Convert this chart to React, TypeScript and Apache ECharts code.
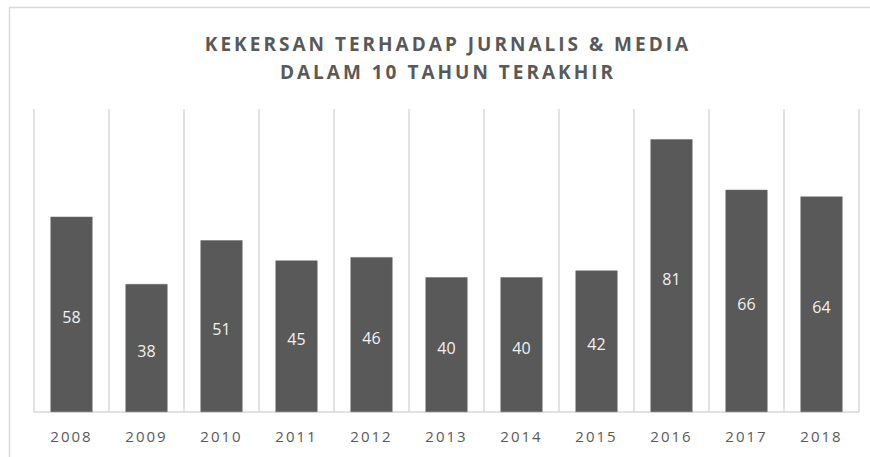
import React, { useEffect, useRef } from "react";
import * as echarts from "echarts";

const titleLines = ["KEKERSAN TERHADAP JURNALIS & MEDIA", "DALAM 10 TAHUN TERAKHIR"];
const years = ["2008", "2009", "2010", "2011", "2012", "2013", "2014", "2015", "2016", "2017", "2018"];
const cases = [58, 38, 51, 45, 46, 40, 40, 42, 81, 66, 64];

export default function App() {
  const ref = useRef<HTMLDivElement>(null);
  useEffect(() => {
    document.body.style.margin = "0";
    const chart = echarts.init(ref.current!, null, { renderer: "svg" });
    chart.setOption({
      animation: false,
      backgroundColor: "#ffffff",
      title: {
        text: titleLines.join("\n"),
        left: 443,
        top: 25,
        textAlign: "center",
        textStyle: {
          fontFamily: "Open Sans",
          fontWeight: "bold",
          fontSize: 19,
          color: "#595959",
          lineHeight: 28,
        },
      },
      graphic: [
        {
          type: "polyline",
          shape: { points: [[9.5, 470], [9.5, 7.5], [880, 7.5]] },
          style: { stroke: "#d9d9d9", fill: "none", lineWidth: 1.5 },
          silent: true,
        },
      ],
      grid: { left: 34, right: 11, top: 109, bottom: 45 },
      xAxis: {
        type: "category",
        data: years,
        axisLine: { lineStyle: { color: "#d9d9d9", width: 1.5 } },
        axisTick: { show: false },
        splitLine: { show: true, lineStyle: { color: "#d9d9d9", width: 1.5 } },
        axisLabel: { color: "#595959", fontFamily: "Open Sans", fontSize: 15, margin: 16 },
      },
      yAxis: {
        type: "value",
        min: 0,
        max: 90,
        show: false,
        splitLine: { show: false },
      },
      series: [
        {
          type: "bar",
          data: cases,
          barWidth: "56%",
          itemStyle: { color: "#595959", borderColor: "#6a6a6a", borderWidth: 0.5 },
          label: {
            show: true,
            position: "inside",
            offset: [0, 3],
            color: "#f2f2f2",
            fontFamily: "Open Sans",
            fontSize: 16,
          },
        },
      ],
    });
    const svg = ref.current!.querySelector("svg");
    if (svg) {
      svg.querySelectorAll("text").forEach((t) => {
        const s = t.textContent || "";
        if (titleLines.some((l) => s.includes(l))) {
          t.setAttribute("letter-spacing", "3");
        } else if (years.includes(s)) {
          t.setAttribute("letter-spacing", "2");
        }
      });
    }
    return () => chart.dispose();
  }, []);
  return <div ref={ref} style={{ width: 870, height: 457 }} />;
}
